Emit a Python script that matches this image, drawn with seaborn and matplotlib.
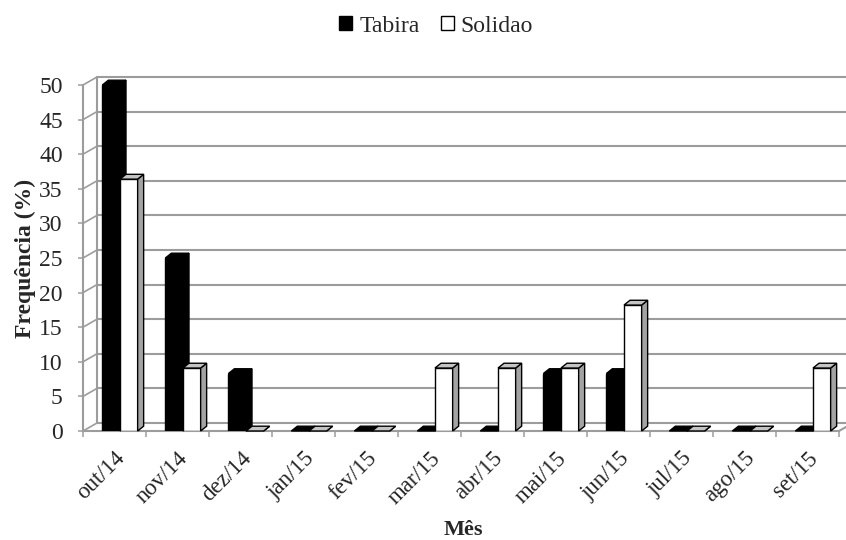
import numpy as np
import pandas as pd
import matplotlib
matplotlib.use("Agg")
import matplotlib.pyplot as plt
from matplotlib.patches import Polygon, Patch
import seaborn as sns

# Monthly frequency (%) per locality
meses = ["out/14", "nov/14", "dez/14", "jan/15", "fev/15", "mar/15",
         "abr/15", "mai/15", "jun/15", "jul/15", "ago/15", "set/15"]
tabira = [50.0, 25.0, 8.3, 0, 0, 0, 0, 8.3, 8.3, 0, 0, 0]
solidao = [36.4, 9.1, 0, 0, 0, 9.1, 9.1, 9.1, 18.2, 0, 0, 9.1]
locais = ["Tabira", "Solidao"]
yticks = list(range(0, 51, 5))

df = pd.DataFrame({
    "Mês": meses * 2,
    "Frequência": tabira + solidao,
    "Local": [locais[0]] * len(meses) + [locais[1]] * len(meses),
})

sns.set_theme(style="white")
plt.rcParams["font.family"] = ["Liberation Serif", "DejaVu Serif"]

W, H = 846, 540
fig = plt.figure(figsize=(W / 100, H / 100), dpi=100)

# front plane of the pseudo 3-D frame (pixel box)
fx0, fx1, fy0, fy1 = 83, 839, 431, 85
ax = fig.add_axes([fx0 / W, 1 - fy0 / H, (fx1 - fx0) / W, (fy0 - fy1) / H])

sns.barplot(data=df, x="Mês", y="Frequência", hue="Local",
            palette=["black", "white"], edgecolor="black", linewidth=1.0,
            width=0.56, saturation=1, legend=False, ax=ax)

ax.set_xlim(-0.5, len(meses) - 0.5)
ax.set_ylim(0, 50)
px = len(meses) / (fx1 - fx0)   # data units per pixel, x
py = 50 / (fy0 - fy1)           # data units per pixel, y

grid = "#9c9c9c"
glw = 1.5
wall_dx, wall_dy = 14 * px, 8 * py     # depth of the back wall
bar_dx, bar_dy = 6 * px, 4.8 * py      # depth of each column
shift = 5.5 * px

xl, xr = -0.5, len(meses) - 0.5
# back wall gridlines, side wall and floor
for v in yticks:
    ax.plot([xl + wall_dx, xr + wall_dx + 1], [v + wall_dy] * 2, color=grid,
            lw=glw, clip_on=False, zorder=1)
    ax.plot([xl, xl + wall_dx], [v, v + wall_dy], color=grid, lw=glw * 0.8,
            clip_on=False, zorder=1)
ax.plot([xl, xl], [0, 50], color=grid, lw=glw, clip_on=False, zorder=1)
ax.plot([xl + wall_dx] * 2, [wall_dy, 50 + wall_dy], color=grid, lw=glw,
        clip_on=False, zorder=1)
ax.plot([xl, xr], [0, 0], color=grid, lw=glw, clip_on=False, zorder=1)
ax.plot([xr, xr + wall_dx], [0, wall_dy], color=grid, lw=glw,
        clip_on=False, zorder=1)

# give every column a side and a top face
for k, cont in enumerate(ax.containers):
    side_c, top_c = ("black", "black") if k == 0 else ("#a3a3a3", "#c4c4c4")
    z = 3 + 2 * k
    for p in cont.patches:
        p.set_x(p.get_x() + shift)
        p.set_zorder(z)
        xa, w, h = p.get_x(), p.get_width(), p.get_height()
        xb = xa + w
        ax.add_patch(Polygon([(xb, 0), (xb + bar_dx, bar_dy),
                              (xb + bar_dx, h + bar_dy), (xb, h)],
                             closed=True, fc=side_c, ec="black", lw=1.0,
                             zorder=z, clip_on=False))
        ax.add_patch(Polygon([(xa, h), (xb, h), (xb + bar_dx, h + bar_dy),
                              (xa + bar_dx, h + bar_dy)],
                             closed=True, fc=top_c, ec="black", lw=1.0,
                             zorder=z, clip_on=False))

for s in ax.spines.values():
    s.set_visible(False)
ax.grid(False)

ax.set_yticks(yticks)
ax.set_yticklabels([str(v) for v in yticks], fontsize=17)
ax.tick_params(axis="y", length=3.6, width=1.1, color=grid, pad=11,
               left=True)

ax.set_xticks(np.arange(len(meses)))
ax.set_xticklabels(meses, rotation=45, ha="right", rotation_mode="anchor",
                   fontsize=16.5)
ax.set_xticks(np.arange(len(meses) + 1) - 0.5, minor=True)
ax.tick_params(axis="x", which="major", length=0, pad=12, bottom=True)
ax.tick_params(axis="x", which="minor", length=4.5, width=1.1, color=grid,
               bottom=True)

ax.set_ylabel("Frequência (%)", fontsize=17, fontweight="bold")
ax.yaxis.set_label_coords(-0.062, 0.5)
ax.set_xlabel("Mês", fontsize=16, fontweight="bold")
ax.xaxis.set_label_coords(0.503, -0.256)

handles = [Patch(fc="black", ec="black", lw=1.0),
           Patch(fc="white", ec="black", lw=1.0)]
fig.legend(handles, locais, loc="center", bbox_to_anchor=(436 / W, 1 - 26 / H),
           ncol=2, frameon=False, fontsize=17, handlelength=0.55,
           handleheight=0.55, handletextpad=0.3, columnspacing=0.9)

fig.savefig("out.png", dpi=100, facecolor="white")
